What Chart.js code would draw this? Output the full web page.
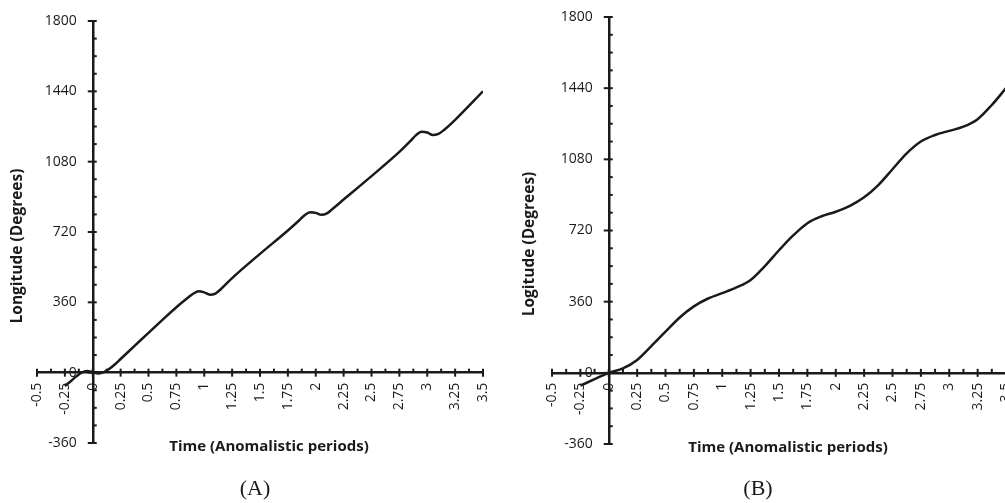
<!DOCTYPE html>
<html>
<head>
<meta charset="utf-8">
<script src="https://cdn.jsdelivr.net/npm/chart.js@4/dist/chart.umd.min.js"></script>
<style>
    html, body { margin: 0; padding: 0; background: #fff; overflow: hidden; width: 1005px; height: 503px; }
    canvas { position: absolute; top: 0; }
    #chartA { left: 0; }
    #chartB { left: 500px; }
</style>
</head>
<body>
<canvas id="chartA" width="520" height="503"></canvas>
<canvas id="chartB" width="540" height="503"></canvas>
<script>
// Tick labels for both panels
const xTicks = [-0.5, -0.25, 0, 0.25, 0.5, 0.75, 1, 1.25, 1.5, 1.75, 2, 2.25, 2.5, 2.75, 3, 3.25, 3.5];
const yTicks = [-360, 0, 360, 720, 1080, 1440, 1800];

// Panel A: time (anomalistic periods) and longitude (degrees)
const timeA = [-0.25, -0.2, -0.15, -0.1, -0.05, 0, 0.05, 0.1, 0.15, 0.2, 0.25, 0.375, 0.5, 0.625, 0.75, 0.85, 0.9, 0.95, 1.0, 1.05, 1.1, 1.15, 1.25, 1.5, 1.75, 1.85, 1.9, 1.95, 2.0, 2.05, 2.1, 2.15, 2.25, 2.5, 2.75, 2.85, 2.9, 2.95, 3.0, 3.05, 3.1, 3.15, 3.25, 3.5];
const longA = [-68, -45, -20, 0, 8, 2, -4, 3, 20, 43, 70, 137, 204, 270, 335, 382, 404, 417, 411, 399, 405, 428, 484, 608, 728, 779, 806, 821, 818, 808, 815, 838, 886, 1006, 1130, 1186, 1216, 1233, 1229, 1216, 1222, 1242, 1294, 1440];

// Panel B: time (anomalistic periods) and logitude (degrees)
const timeB = [-0.25, -0.125, 0, 0.125, 0.25, 0.375, 0.5, 0.625, 0.75, 0.875, 1.0, 1.125, 1.25, 1.375, 1.5, 1.625, 1.75, 1.875, 2.0, 2.125, 2.25, 2.375, 2.5, 2.625, 2.75, 2.875, 3.0, 3.125, 3.25, 3.375, 3.5];
const longB = [-65, -32, 0, 22, 65, 135, 208, 280, 336, 376, 403, 432, 470, 540, 620, 695, 757, 792, 815, 845, 888, 950, 1030, 1110, 1170, 1203, 1224, 1245, 1283, 1355, 1440];

const ink = '#1a1a1a';

// Draws the tick marks (major ones cross the axis, minor ones sit on the inner side)
// and the y tick labels, which Chart.js puts right on the axis when it is placed at x = 0
const tickMarks = {
    id: 'tickMarks',
    afterDatasetsDraw(chart) {
        const ctx = chart.ctx;
        const xs = chart.scales.x, ys = chart.scales.y;
        const x0 = xs.getPixelForValue(0), y0 = ys.getPixelForValue(0);
        ctx.save();
        ctx.strokeStyle = ink;
        ctx.lineWidth = 2;
        xTicks.forEach((v, i) => {
            const px = xs.getPixelForValue(v);
            ctx.beginPath(); ctx.moveTo(px, y0 - 4); ctx.lineTo(px, y0 + 4); ctx.stroke();
            if (i < xTicks.length - 1) {
                const mx = xs.getPixelForValue((v + xTicks[i + 1]) / 2);
                ctx.beginPath(); ctx.moveTo(mx, y0 - 4); ctx.lineTo(mx, y0); ctx.stroke();
            }
        });
        ctx.fillStyle = ink;
        ctx.font = '14px "Open Sans"';
        ctx.textAlign = 'right';
        ctx.textBaseline = 'middle';
        yTicks.forEach((v, i) => {
            const py = ys.getPixelForValue(v);
            ctx.beginPath(); ctx.moveTo(x0 - 5, py); ctx.lineTo(x0 + 4, py); ctx.stroke();
            ctx.fillText(String(v), x0 - 16, py);
            if (i < yTicks.length - 1) {
                for (let k = 1; k < 4; k++) {
                    const my = ys.getPixelForValue(v + (yTicks[i + 1] - v) * k / 4);
                    ctx.beginPath(); ctx.moveTo(x0, my); ctx.lineTo(x0 + 4, my); ctx.stroke();
                }
            }
        });
        ctx.restore();
    }
};

// Axis titles and panel letter
const titles = {
    id: 'titles',
    afterDraw(chart, args, opts) {
        const ctx = chart.ctx;
        ctx.save();
        ctx.fillStyle = ink;
        ctx.textAlign = 'center';
        ctx.textBaseline = 'middle';
        ctx.font = 'bold 15px "Open Sans"';
        ctx.fillText(opts.xTitle, opts.xTitlePos[0], opts.xTitlePos[1]);
        ctx.save();
        ctx.translate(opts.yTitlePos[0], opts.yTitlePos[1]);
        ctx.rotate(-Math.PI / 2);
        ctx.font = 'bold 15.5px "Open Sans"';
        ctx.fillText(opts.yTitle, 0, 0);
        ctx.restore();
        ctx.font = '22px "Liberation Serif"';
        ctx.fillText(opts.panel, opts.panelPos[0], opts.panelPos[1]);
        ctx.restore();
    }
};

// Function to create one panel
function createChart(canvasId, times, values, padding, titleOpts) {
    return new Chart(document.getElementById(canvasId), {
        type: 'line',
        data: {
            datasets: [{
                data: times.map((t, i) => ({ x: t, y: values[i] })),
                borderColor: ink,
                borderWidth: 2.5,
                pointRadius: 0,
                cubicInterpolationMode: 'monotone',
                fill: false
            }]
        },
        options: {
            responsive: false,
            animation: false,
            layout: { padding: padding },
            plugins: {
                legend: { display: false },
                tooltip: { enabled: false },
                titles: titleOpts
            },
            scales: {
                x: {
                    type: 'linear',
                    min: -0.5,
                    max: 3.5,
                    position: { y: 0 },
                    afterFit: (s) => { s.height = 0; },
                    afterBuildTicks: (s) => { s.ticks = xTicks.map(v => ({ value: v })); },
                    grid: { display: false, drawTicks: false, tickLength: 0 },
                    border: { display: true, color: ink, width: 2.5 },
                    ticks: {
                        autoSkip: false,
                        minRotation: 90,
                        maxRotation: 90,
                        padding: 10,
                        color: ink,
                        font: { family: 'Open Sans', size: 14 },
                        callback: (v) => String(v)
                    }
                },
                y: {
                    type: 'linear',
                    min: -360,
                    max: 1800,
                    position: { x: 0 },
                    afterFit: (s) => { s.width = 0; },
                    afterBuildTicks: (s) => { s.ticks = yTicks.map(v => ({ value: v })); },
                    grid: { display: false, drawTicks: false, tickLength: 0 },
                    border: { display: true, color: ink, width: 2.5 },
                    ticks: { display: false }
                }
            }
        },
        plugins: [tickMarks, titles]
    });
}

const chartA = createChart('chartA', timeA, longA,
    { left: 37, right: 37, top: 21, bottom: 60 },
    { xTitle: 'Time (Anomalistic periods)', xTitlePos: [269, 447],
      yTitle: 'Longitude (Degrees)', yTitlePos: [18, 246],
      panel: '(A)', panelPos: [255, 489] });

const chartB = createChart('chartB', timeB, longB,
    { left: 52, right: 34, top: 17, bottom: 59 },
    { xTitle: 'Time (Anomalistic periods)', xTitlePos: [288, 448],
      yTitle: 'Logitude (Degrees)', yTitlePos: [30, 244],
      panel: '(B)', panelPos: [258, 489] });
</script>
</body>
</html>
